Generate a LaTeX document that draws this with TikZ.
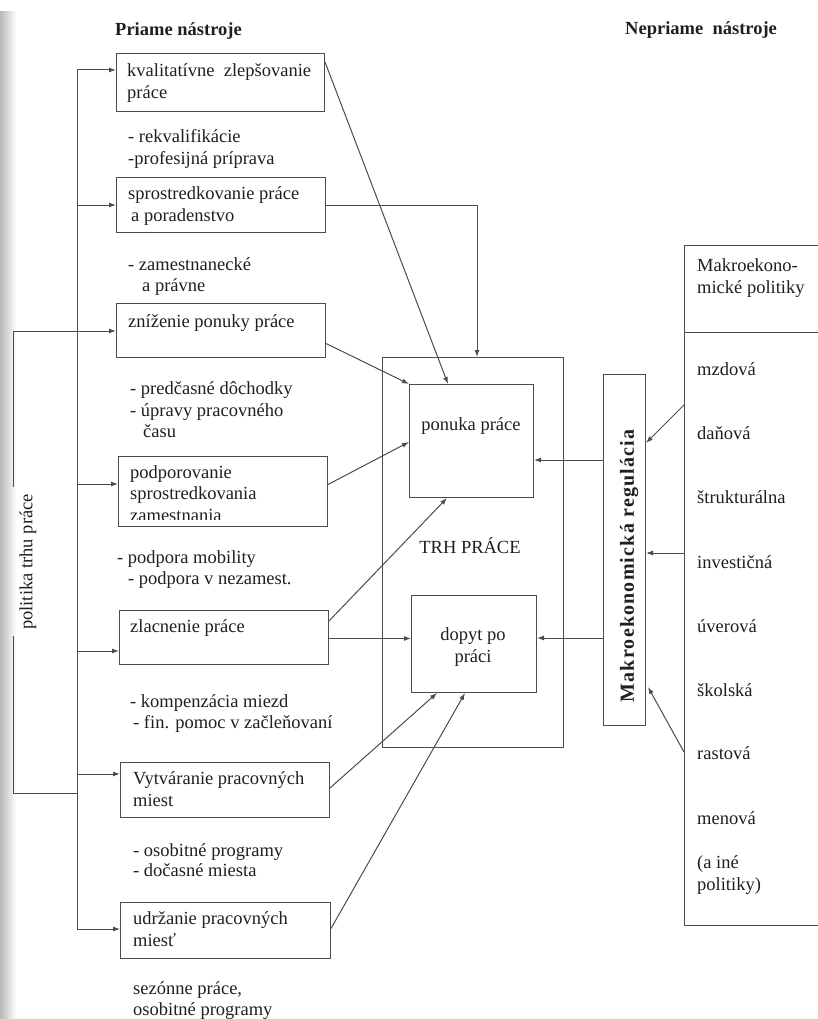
\documentclass[tikz,border=0pt]{standalone}
\usepackage{fontspec}
\setmainfont{Liberation Serif}
\usetikzlibrary{arrows.meta,calc}
\definecolor{linec}{gray}{0.3}
\definecolor{textc}{gray}{0.12}
\begin{document}
\begin{tikzpicture}[x=1pt,y=-1pt,
  box/.style={draw=linec, line width=1pt, inner sep=0pt, anchor=north west},
  txt/.style={anchor=base west, inner sep=0pt, text=textc, font=\fontsize{18.5}{22}\selectfont},
  ctxt/.style={anchor=base, inner sep=0pt, text=textc, font=\fontsize{18.5}{22}\selectfont},
  ttl/.style={anchor=base west, inner sep=0pt, text=textc, font=\fontsize{18.5}{22}\selectfont\bfseries},
  arr/.style={draw=linec, line width=1pt, -{Latex[length=7pt,width=5pt]}},
  ln/.style={draw=linec, line width=1pt}]

\useasboundingbox (0,0) rectangle (817,1019);
\shade[left color=black!28, right color=white] (0,12) rectangle (16,1019);

% titles
\node[ttl] (tl) at (115,36) {Priame nástroje};
\node[ttl] (tr) at (625,35) {Nepriame\ \ nástroje};

% left boxes
\node[box, minimum width=208pt, minimum height=58pt] (b1) at (116,53) {};
\node[box, minimum width=209pt, minimum height=55pt] (b2) at (116,177) {};
\node[box, minimum width=209pt, minimum height=54pt] (b3) at (116,303) {};
\node[box, minimum width=209pt, minimum height=70pt] (b4) at (118,456) {};
\node[box, minimum width=209pt, minimum height=54pt] (b5) at (119,610) {};
\node[box, minimum width=209pt, minimum height=55pt] (b6) at (120,762) {};
\node[box, minimum width=210pt, minimum height=56pt] (b7) at (120,902) {};

\node[txt] (t1a) at (127,77) {kvalitatívne\ \ zlepšovanie};
\node[txt] (t1b) at (127,99) {práce};
\node[txt] (t2a) at (128,199) {sprostredkovanie práce};
\node[txt] (t2b) at (131,221) {a poradenstvo};
\node[txt] (t3a) at (128,327) {zníženie ponuky práce};
\node[txt] (t4a) at (130,478) {podporovanie};
\node[txt] (t4b) at (130,499) {sprostredkovania};
\begin{scope}
\clip (118,456) rectangle (327,519);
\node[txt] (t4c) at (130,521) {zamestnania};
\end{scope}
\node[txt] (t5a) at (130,632) {zlacnenie práce};
\node[txt] (t6a) at (133,784) {Vytváranie pracovných};
\node[txt] (t6b) at (133,806) {miest};
\node[txt] (t7a) at (133,924) {udržanie pracovných};
\node[txt] (t7b) at (133,946) {miesť};

% annotations
\node[txt] (n1a) at (128,143) {- rekvalifikácie};
\node[txt] (n1b) at (128,165) {-profesijná príprava};
\node[txt] (n2a) at (128,270) {- zamestnanecké};
\node[txt] (n2b) at (142,291) {a právne};
\node[txt] (n3a) at (130,394) {- predčasné dôchodky};
\node[txt] (n3b) at (130,416) {- úpravy pracovného};
\node[txt] (n3c) at (143,437) {času};
\node[txt] (n4a) at (117,563) {- podpora mobility};
\node[txt] (n4b) at (128,584) {- podpora v nezamest.};
\node[txt] (n5a) at (130,707) {- kompenzácia miezd};
\node[txt] (n5b) at (133,728) {- fin. pomoc v začleňovaní};
\node[txt] (n6a) at (133,856) {- osobitné programy};
\node[txt] (n6b) at (133,876) {- dočasné miesta};
\node[txt] (n7a) at (133,994) {sezónne práce,};
\node[txt] (n7b) at (133,1015) {osobitné programy};

% left trunk
\coordinate (v1) at (77,70);
\coordinate (v2) at (77,205);
\coordinate (v3) at (77,331);
\coordinate (v4) at (77,484);
\coordinate (v5) at (77,651);
\coordinate (v6) at (77,774);
\coordinate (v7) at (77,929);
\coordinate (pb) at (77,793);
\draw[ln] (v1) -- (v7);
\draw[arr] (v1) -- (v1 -| b1.west);
\draw[arr] (v2) -- (v2 -| b2.west);
\draw[arr] (v3) -- (v3 -| b3.west);
\draw[arr] (v4) -- (v4 -| b4.west);
\draw[arr] (v5) -- (v5 -| b5.west);
\draw[arr] (v6) -- (v6 -| b6.west);
\draw[arr] (v7) -- (v7 -| b7.west);

% politika frame
\draw[ln] (v3) -- (13,331) -- (13,487);
\draw[ln] (13,636) -- (13,793) -- (pb);
\node[rotate=90, anchor=center, inner sep=0pt, text=textc, font=\fontsize{18.5}{22}\selectfont] (pol) at (28,562) {politika trhu práce};

% centre
\node[box, minimum width=181pt, minimum height=390pt] (trh) at (382,357) {};
\node[box, minimum width=124pt, minimum height=113pt] (pon) at (409,384) {};
\node[box, minimum width=125pt, minimum height=97pt] (dop) at (411,595) {};
\node[ctxt] (ponT) at (471,430) {ponuka práce};
\node[ctxt] (trhT) at (470,553) {TRH PRÁCE};
\node[ctxt] (dopT1) at (473,640) {dopyt po};
\node[ctxt] (dopT2) at (473,662) {práci};

% makro regulacia
\node[box, minimum width=42pt, minimum height=351pt] (mak) at (603,374) {};
\node[rotate=90, anchor=center, inner sep=0pt, text=textc, font=\fontsize{20}{22}\selectfont\bfseries\addfontfeature{LetterSpace=6}] (makT) at (629,566) {Makroekonomická regulácia};

% right frame
\node[box, minimum width=160pt, minimum height=680pt] (rf) at (684,245) {};
\draw[ln] ($(rf.north west)+(0,87)$) -- ($(rf.north east)+(0,87)$);
\node[txt] (r0a) at (697,271) {Makroekono-};
\node[txt] (r0b) at (697,293) {mické politiky};
\node[txt] (r1) at (697,375) {mzdová};
\node[txt] (r2) at (697,439) {daňová};
\node[txt] (r3) at (697,503) {štrukturálna};
\node[txt] (r4) at (697,568) {investičná};
\node[txt] (r5) at (697,632) {úverová};
\node[txt] (r6) at (697,696) {školská};
\node[txt] (r7) at (697,759) {rastová};
\node[txt] (r8) at (697,824) {menová};
\node[txt] (r9a) at (697,868) {(a iné};
\node[txt] (r9b) at (697,890) {politiky)};

% connectors left -> centre
\coordinate (c6) at ($(b5.east)+(0,1)$);
\draw[arr] ($(b1.north east)+(0,9)$) -- ($(pon.north west)+(39,0)$);
\draw[arr] (b2.east) -| ($(trh.north west)+(95,0)$);
\draw[arr] ($(b3.east)+(0,13)$) -- (pon.north west);
\draw[arr] ($(b4.east)+(0,-7)$) -- ($(pon.north west)+(0,58)$);
\draw[arr] ($(b5.north east)+(0,11)$) -- ($(pon.south west)+(38,0)$);
\draw[arr] (c6) -- (c6 -| dop.west);
\draw[arr] ($(b6.east)+(0,-2)$) -- ($(dop.south west)+(26,0)$);
\draw[arr] ($(b7.east)+(0,-2)$) -- ($(dop.south west)+(54,0)$);

% makro -> centre
\coordinate (m1) at ($(mak.north west)+(0,86)$);
\coordinate (m2) at ($(mak.north west)+(0,264)$);
\draw[arr] (m1) -- (m1 -| pon.east);
\draw[arr] (m2) -- (m2 -| dop.east);

% right frame -> makro
\draw[arr] ($(rf.north west)+(0,160)$) -- ($(mak.north east)+(0,69)$);
\draw[arr] ($(rf.north west)+(0,308)$) -- ($(mak.north east)+(0,179)$);
\draw[arr] ($(rf.north west)+(0,507)$) -- ($(mak.north east)+(2,313)$);
\end{tikzpicture}
\end{document}
